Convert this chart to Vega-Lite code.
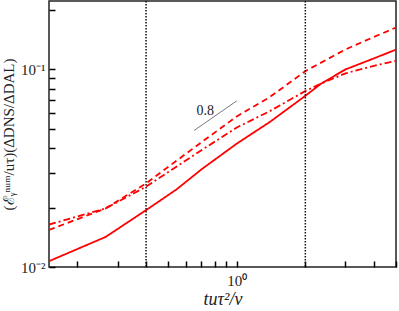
{
  "$schema": "https://vega.github.io/schema/vega-lite/v6.json",
  "width": 347,
  "height": 266,
  "autosize": {"type": "none"},
  "padding": {"left": 49, "top": 1, "right": 3, "bottom": 44},
  "background": "white",
  "config": {
    "view": {"stroke": "#222", "strokeWidth": 1.5},
    "axis": {"grid": false, "labelFont": "Liberation Serif", "labelFontSize": 15, "labelColor": "#222", "titleFont": "Liberation Serif", "titleColor": "#222", "titleFontWeight": "normal"}
  },
  "datasets": {
    "curves": [
      {"t": 0.15, "v": 0.0107, "s": "solid"},
      {"t": 0.266, "v": 0.0142, "s": "solid"},
      {"t": 0.4, "v": 0.0194, "s": "solid"},
      {"t": 0.544, "v": 0.0247, "s": "solid"},
      {"t": 0.7, "v": 0.0312, "s": "solid"},
      {"t": 1.0, "v": 0.0421, "s": "solid"},
      {"t": 1.4, "v": 0.0543, "s": "solid"},
      {"t": 2.0, "v": 0.0735, "s": "solid"},
      {"t": 2.35, "v": 0.0849, "s": "solid"},
      {"t": 3.0, "v": 0.1, "s": "solid"},
      {"t": 4.0, "v": 0.1137, "s": "solid"},
      {"t": 5.0, "v": 0.126, "s": "solid"},
      {"t": 0.15, "v": 0.0154, "s": "dashed"},
      {"t": 0.266, "v": 0.0198, "s": "dashed"},
      {"t": 0.4, "v": 0.0265, "s": "dashed"},
      {"t": 0.7, "v": 0.0428, "s": "dashed"},
      {"t": 1.0, "v": 0.0578, "s": "dashed"},
      {"t": 1.4, "v": 0.0726, "s": "dashed"},
      {"t": 2.0, "v": 0.098, "s": "dashed"},
      {"t": 3.0, "v": 0.1262, "s": "dashed"},
      {"t": 4.0, "v": 0.146, "s": "dashed"},
      {"t": 5.0, "v": 0.163, "s": "dashed"},
      {"t": 0.15, "v": 0.0164, "s": "dashdot"},
      {"t": 0.266, "v": 0.0198, "s": "dashdot"},
      {"t": 0.4, "v": 0.0255, "s": "dashdot"},
      {"t": 0.7, "v": 0.039, "s": "dashdot"},
      {"t": 1.0, "v": 0.0508, "s": "dashdot"},
      {"t": 1.4, "v": 0.0616, "s": "dashdot"},
      {"t": 2.0, "v": 0.0777, "s": "dashdot"},
      {"t": 2.35, "v": 0.0849, "s": "dashdot"},
      {"t": 3.0, "v": 0.0955, "s": "dashdot"},
      {"t": 4.0, "v": 0.1043, "s": "dashdot"},
      {"t": 5.0, "v": 0.1106, "s": "dashdot"}
    ],
    "vlines": [{"t": 0.4}, {"t": 2.0}],
    "slope": [{"t": 0.65, "v": 0.0491}, {"t": 1.0, "v": 0.0693}],
    "label": [{"t": 0.727, "v": 0.0618, "text": "0.8"}]
  },
  "layer": [
    {
      "data": {"name": "curves"},
      "mark": {"type": "line", "color": "#ff0000", "strokeWidth": 1.8, "clip": true},
      "encoding": {
        "x": {"field": "t", "type": "quantitative",
          "scale": {"type": "log", "domain": [0.15, 5], "nice": false},
          "axis": {"orient": "bottom", "values": [0.2, 0.3, 0.4, 0.5, 0.6, 0.7, 0.8, 0.9, 1, 2, 3, 4, 5],
            "labelExpr": "datum.value == 1 ? '10⁰' : ''", "labelPadding": 6, "domain": false, "offset": -6, "tickSize": 6, "tickColor": "#000", "tickWidth": 1.5, "zindex": 1,
            "title": "tuτ²/ν", "titleFontSize": 18, "titleFontStyle": "italic", "titlePadding": 2}},
        "y": {"field": "v", "type": "quantitative",
          "scale": {"type": "log", "domain": [0.01, 0.222], "nice": false},
          "axis": {"orient": "left", "values": [0.01, 0.02, 0.03, 0.04, 0.05, 0.06, 0.07, 0.08, 0.09, 0.1, 0.2],
            "labelExpr": "datum.value == 0.01 ? '10⁻²' : (datum.value == 0.1 ? '10⁻¹' : '')", "labelPadding": 4, "domain": false, "offset": -6, "tickSize": 6, "tickColor": "#000", "tickWidth": 1.5, "zindex": 1,
            "title": "(ℰᵧⁿᵘᵐ/uτ)(ΔDNS/ΔDAL)", "titleFontSize": 15, "titlePadding": 4}},
        "strokeDash": {"field": "s", "type": "nominal",
          "scale": {"domain": ["solid", "dashed", "dashdot"], "range": [[1, 0], [6, 4], [7, 3, 2, 3]]},
          "legend": null}
      }
    },
    {
      "data": {"name": "vlines"},
      "mark": {"type": "rule", "color": "#111", "strokeWidth": 1.5, "strokeDash": [1.5, 1.5]},
      "encoding": {
        "x": {"field": "t", "type": "quantitative"}
      }
    },
    {
      "data": {"name": "slope"},
      "mark": {"type": "line", "color": "#555", "strokeWidth": 0.8},
      "encoding": {
        "x": {"field": "t", "type": "quantitative"},
        "y": {"field": "v", "type": "quantitative"}
      }
    },
    {
      "data": {"name": "label"},
      "mark": {"type": "text", "font": "Liberation Serif", "fontSize": 14, "color": "#222"},
      "encoding": {
        "x": {"field": "t", "type": "quantitative"},
        "y": {"field": "v", "type": "quantitative"},
        "text": {"field": "text"}
      }
    }
  ]
}
